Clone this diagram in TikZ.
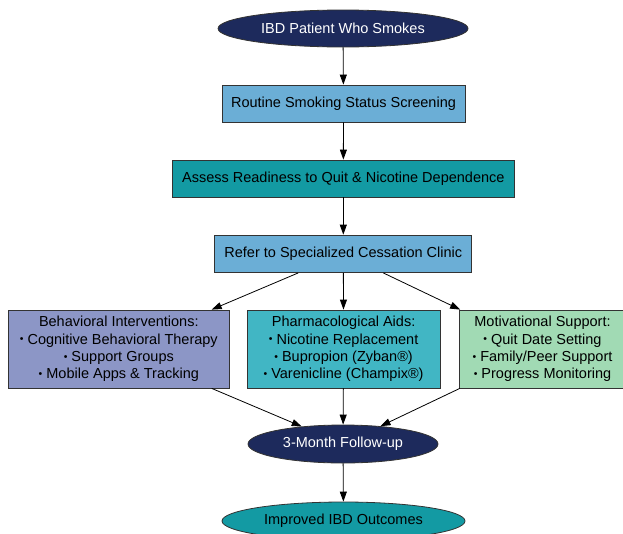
\documentclass[tikz,border=0pt]{standalone}
\usepackage{fontspec}
\setmainfont{Liberation Sans}
\usetikzlibrary{arrows.meta,shapes.geometric}

\definecolor{navy}{HTML}{1D2A5C}
\definecolor{skyblue}{HTML}{6BAED6}
\definecolor{deepteal}{HTML}{139AA3}
\definecolor{midteal}{HTML}{41B6C4}
\definecolor{lavender}{HTML}{8C96C6}
\definecolor{mint}{HTML}{A1DAB4}
\definecolor{edgegray}{HTML}{333333}

% small list bullet
\newcommand{\bul}{\raisebox{1.2pt}{\fontsize{10.5}{10.5}\selectfont •}}

\tikzset{
  base/.style={draw=edgegray, line width=0.8pt, inner sep=0pt,
    font=\fontsize{14.5}{17.3}\selectfont, align=center},
  oval/.style={base, ellipse},
  stepbox/.style={base, rectangle},
  flow/.style={draw=black, line width=0.8pt,
    -{Triangle[length=10pt,width=7pt]}}
}

\begin{document}
\begin{tikzpicture}[x=1pt,y=-1pt]
  \useasboundingbox (0,0) rectangle (623,533);
  \clip (0,0) rectangle (623,533);

  % main column
  \node[oval, fill=navy, text=white, minimum width=250pt, minimum height=37pt]
    (patient) at (343,28.5) {IBD Patient Who Smokes};
  \node[stepbox, fill=skyblue, minimum width=243pt, minimum height=37pt]
    (screen) at (343.5,103.5) {Routine Smoking Status Screening};
  \node[stepbox, fill=deepteal, minimum width=342pt, minimum height=37pt]
    (assess) at (343.3,178.5) {Assess Readiness to Quit \& Nicotine Dependence};
  \node[stepbox, fill=skyblue, minimum width=257pt, minimum height=37.5pt]
    (refer) at (343.3,253.8) {Refer to Specialized Cessation Clinic};

  % intervention boxes
  \node[stepbox, fill=lavender, minimum width=221pt, minimum height=78pt]
    (behav) at (118.8,349) {Behavioral Interventions:\\
      \bul{} Cognitive Behavioral Therapy\\ \bul{} Support Groups\\ \bul{} Mobile Apps \& Tracking};
  \node[stepbox, fill=midteal, minimum width=193pt, minimum height=78pt]
    (pharma) at (343.6,349) {Pharmacological Aids:\\
      \bul{} Nicotine Replacement\\ \bul{} Bupropion (Zyban®)\\ \bul{} Varenicline (Champix®)};
  \node[stepbox, fill=mint, minimum width=166pt, minimum height=78pt]
    (motiv) at (542.5,349) {Motivational Support:\\
      \bul{} Quit Date Setting\\ \bul{} Family/Peer Support\\ \bul{} Progress Monitoring};

  % follow-up and outcome
  \node[oval, fill=navy, text=white, minimum width=190pt, minimum height=38pt]
    (follow) at (343,444) {3-Month Follow-up};
  \node[oval, fill=deepteal, minimum width=243pt, minimum height=38pt]
    (outcome) at (343.5,521) {Improved IBD Outcomes};

  % connectors
  \draw[flow] (patient) -- (screen);
  \draw[flow] (screen) -- (assess);
  \draw[flow] (assess) -- (refer);
  \draw[flow] (refer) -- (behav);
  \draw[flow] (refer) -- (pharma);
  \draw[flow] (refer) -- (motiv);
  \draw[flow] (behav) -- (follow);
  \draw[flow] (pharma) -- (follow);
  \draw[flow] (motiv) -- (follow);
  \draw[flow] (follow) -- (outcome);
\end{tikzpicture}
\end{document}
